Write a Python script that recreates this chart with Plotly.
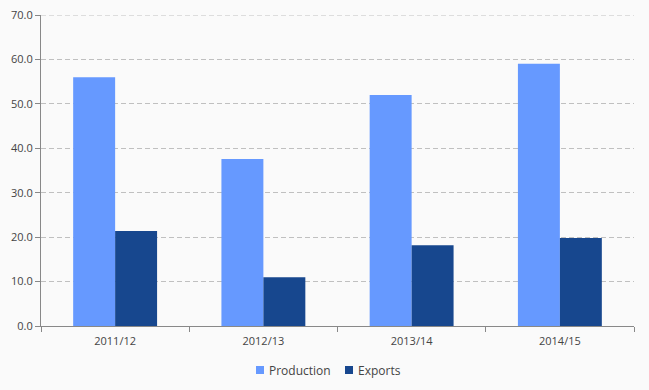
import plotly.graph_objects as go

categories = ["2011/12", "2012/13", "2013/14", "2014/15"]
production = [56.0, 37.6, 52.0, 59.0]
exports = [21.4, 11.0, 18.2, 19.8]
y_ticks = [0, 10, 20, 30, 40, 50, 60, 70]
series_names = ["Production", "Exports"]
series_colors = ["#6699ff", "#17478e"]

W, H = 649, 390
L, R, T, B = 41, 15, 15, 64
GRID_DASH = "5px,3px"

fig = go.Figure()
for name, vals, col in zip(series_names, [production, exports], series_colors):
    fig.add_trace(go.Bar(name=name, x=categories, y=vals, marker_color=col,
                         marker_line_width=0, showlegend=False))

# top gridline (plotly drops gridlines on the plot edge)
fig.add_shape(type="line", xref="paper", yref="y", x0=0, x1=1, y0=y_ticks[-1], y1=y_ticks[-1],
              line=dict(color="#c0c0c0", width=1, dash=GRID_DASH), layer="below")

# custom legend (small squares + text) below the plot
legend_x = [256, 345]
for name, col, lx in zip(series_names, series_colors, legend_x):
    fig.add_shape(type="rect", xref="paper", yref="paper",
                  x0=(lx - L) / (W - L - R), x1=(lx + 8 - L) / (W - L - R),
                  y0=-(366 - (H - B)) / (H - T - B), y1=-(374 - (H - B)) / (H - T - B),
                  fillcolor=col, line_width=0)
    fig.add_annotation(text=name, xref="paper", yref="paper",
                       x=(lx + 11 - L) / (W - L - R), xanchor="left",
                       y=-(370 - (H - B)) / (H - T - B), yanchor="middle",
                       showarrow=False, font=dict(size=12, color="#444444"))

fig.update_layout(
    width=W, height=H,
    margin=dict(l=L, r=R, t=T, b=B, autoexpand=False),
    paper_bgcolor="#fafafa", plot_bgcolor="#fafafa",
    barmode="group", bargap=0.434, bargroupgap=0,
    font=dict(family="Open Sans", size=11, color="#444444"),
)
fig.update_xaxes(
    type="category", tickson="boundaries", ticks="outside", ticklen=5, tickcolor="#888888",
    showline=True, linecolor="#888888", linewidth=1, showgrid=False, automargin=False,
    ticklabelstandoff=5,
    tickfont=dict(size=11, color="#444444"),
)
fig.update_yaxes(
    range=[0, 70], tickvals=y_ticks, tickformat=".1f", ticks="outside", ticklen=5, tickcolor="#888888",
    showline=True, linecolor="#888888", linewidth=1, automargin=False,
    showgrid=True, gridcolor="#c0c0c0", griddash=GRID_DASH, gridwidth=1, zeroline=False,
    tickfont=dict(size=11, color="#444444"),
)

fig.write_html("out.html", config={"displayModeBar": False},
               post_script="document.body.style.margin='0';document.body.style.background='#fafafa';")
